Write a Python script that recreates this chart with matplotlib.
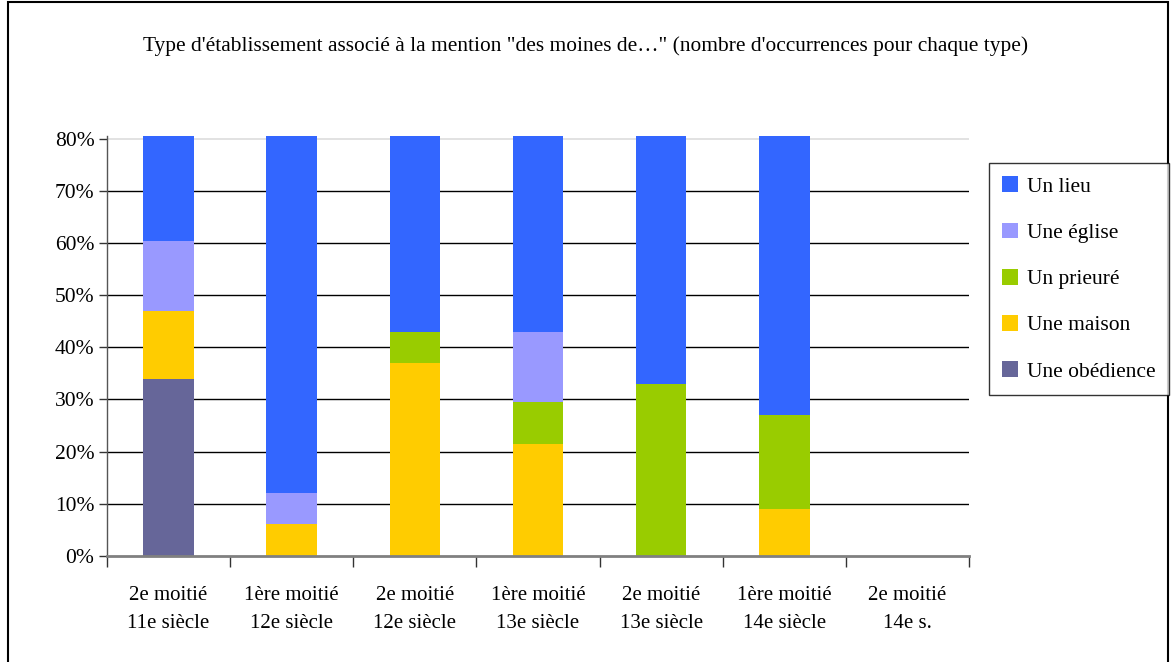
import matplotlib.pyplot as plt
import matplotlib.patches as mpatches
import numpy as np

plt.rcParams['font.family'] = ['Liberation Serif', 'DejaVu Serif']

periodes = ["2e moitié\n11e siècle", "1ère moitié\n12e siècle", "2e moitié\n12e siècle",
            "1ère moitié\n13e siècle", "2e moitié\n13e siècle", "1ère moitié\n14e siècle",
            "2e moitié\n14e s."]

# parts (%), de bas en haut
obedience = [34, 0, 0, 0, 0, 0, 0]
maison = [13, 6, 37, 21.5, 0, 9, 0]
prieure = [0, 0, 6, 8, 33, 18, 0]
eglise = [13.4, 6, 0, 13.5, 0, 0, 0]
lieu = [39.6, 88, 57, 57, 67, 73, 0]

series = [("Une obédience", obedience, "#666699"),
          ("Une maison", maison, "#FFCC00"),
          ("Un prieuré", prieure, "#99CC00"),
          ("Une église", eglise, "#9999FF"),
          ("Un lieu", lieu, "#3366FF")]

W, H = 1172, 662
fig = plt.figure(figsize=(W / 100, H / 100), dpi=100)
ax = fig.add_axes([107 / W, 1 - 555.7 / H, (969 - 107) / W, (555.7 - 135.8) / H])

x = np.arange(len(periodes))
bottom = np.zeros(len(periodes))
handles = []
for name, vals, col in series:
    v = np.array(vals) / 100
    b = ax.bar(x, v, 0.41, bottom=bottom, color=col, label=name, zorder=3)
    handles.append(b)
    bottom += v

ax.set_xlim(-0.5, len(periodes) - 0.5)
ax.set_ylim(0, 0.806)
yt = np.arange(0, 0.81, 0.1)
ax.set_yticks(yt)
ax.set_yticklabels([f"{int(round(t * 100))}%" for t in yt], fontsize=15.5)
for t in yt[1:-1]:
    ax.axhline(t, color='black', lw=1, zorder=1)
ax.axhline(0.8, color='#dddddd', lw=1.2, zorder=1)

ax.set_xticks(np.arange(-0.5, len(periodes)), minor=False)
ax.set_xticklabels([])
ax.set_xticks(x, minor=True)
ax.set_xticklabels(periodes, minor=True, fontsize=15, linespacing=1.6)
ax.tick_params(axis='x', which='major', length=8, width=1, color='#333333', direction='out')
ax.tick_params(axis='x', which='minor', length=0, pad=22)
ax.tick_params(axis='y', length=6, width=1, color='#333333', pad=3)

for s in ['top', 'right']:
    ax.spines[s].set_visible(False)
ax.spines['bottom'].set_color('#808080')
ax.spines['bottom'].set_linewidth(2)
ax.spines['bottom'].set_zorder(4)
ax.spines['left'].set_color('#555555')
ax.spines['left'].set_linewidth(1)

fig.text(0.5, 1 - 46 / H, "Type d'établissement associé à la mention \"des moines de…\" "
         "(nombre d'occurrences pour chaque type)", ha='center', va='center', fontsize=15.4)

leg = fig.legend(handles[::-1], [s[0] for s in series][::-1], loc='upper left',
                 bbox_to_anchor=(989 / W, 1 - 163 / H), fontsize=15.5, frameon=True,
                 fancybox=False, edgecolor='black', handlelength=0.75, handleheight=0.75,
                 handletextpad=0.4, labelspacing=1.2, borderpad=0.62, borderaxespad=0)
leg.get_frame().set_linewidth(1)

# cadre extérieur
fig.patches.append(mpatches.Rectangle((8 / W, -0.05), (1168 - 8) / W, 1.05 - 2 / H,
                                      transform=fig.transFigure, fill=False,
                                      edgecolor='black', lw=1.5))

fig.savefig("out.png", dpi=100)
